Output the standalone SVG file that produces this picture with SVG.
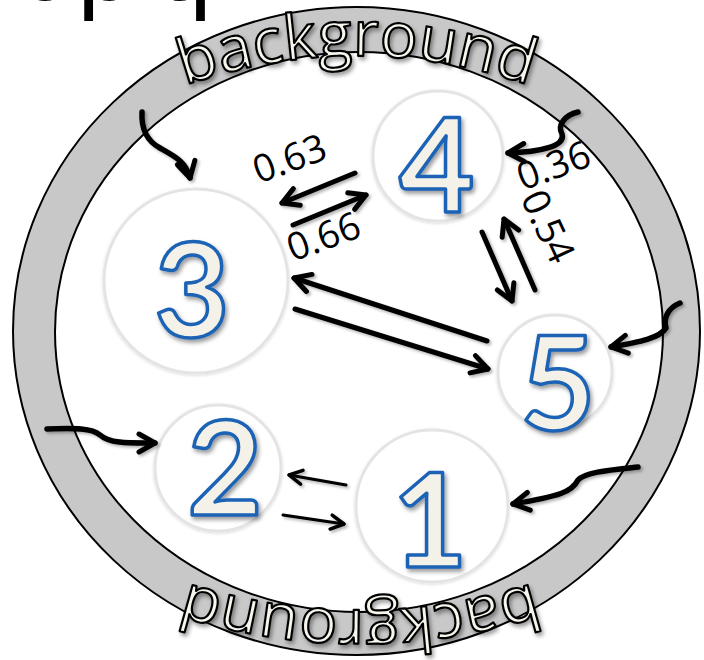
<svg xmlns="http://www.w3.org/2000/svg" xmlns:xlink="http://www.w3.org/1999/xlink" width="704" height="660" viewBox="0 0 704 660">
  <style>
    .ring-o { fill: #c8c8c8; stroke: #000; stroke-width: 2; }
    .ring-i { fill: #ffffff; stroke: #000; stroke-width: 2; }
    .bg-label { font-family: "Open Sans", "DejaVu Sans", sans-serif; font-size: 63px; fill: #f7f5ec; stroke: #000; stroke-width: 2.2; stroke-linejoin: round; filter: url(#shadow); }
    .node-circle { fill: #ffffff; stroke: #e4e4e4; stroke-width: 3; filter: url(#soft); }
    .digit { font-family: Lato, "DejaVu Sans", sans-serif; font-weight: bold; font-size: 130px; fill: #f4f2e8; stroke: #1b62b5; stroke-width: 3.5; stroke-linejoin: round; text-anchor: middle; filter: url(#shadow); }
    .arrow { fill: none; stroke: #000; stroke-width: 5; stroke-linecap: round; stroke-linejoin: round; marker-end: url(#ah); }
    .arrow-thin { fill: none; stroke: #000; stroke-width: 3; stroke-linecap: round; marker-end: url(#ahs); }
    .wavy { fill: none; stroke: #000; stroke-width: 5.5; stroke-linecap: round; stroke-linejoin: round; marker-end: url(#ah); }
    .prob { font-family: "Open Sans", "Liberation Sans", sans-serif; font-size: 38px; fill: #000; text-anchor: middle; }
    .title { font-family: "Liberation Sans", Arial, sans-serif; font-size: 100px; fill: #000; }
  </style>
  <defs>
    <filter id="shadow" x="-20%" y="-20%" width="140%" height="140%">
      <feDropShadow dx="2" dy="3" stdDeviation="2" flood-color="#000" flood-opacity="0.4"/>
    </filter>
    <filter id="soft" x="-20%" y="-20%" width="140%" height="140%">
      <feDropShadow dx="0" dy="1" stdDeviation="1.5" flood-color="#000" flood-opacity="0.15"/>
    </filter>
    <filter id="ashadow" x="-20%" y="-20%" width="140%" height="140%">
      <feDropShadow dx="2" dy="2" stdDeviation="1.5" flood-color="#000" flood-opacity="0.3"/>
    </filter>
    <marker id="ah" viewBox="0 0 24 24" refX="20" refY="12" markerWidth="24" markerHeight="24" markerUnits="userSpaceOnUse" orient="auto">
      <path d="M4,3 L20,12 L4,21" fill="none" stroke="#000" stroke-width="5" stroke-linecap="round" stroke-linejoin="round"/>
    </marker>
    <marker id="ahs" viewBox="0 0 20 20" refX="17" refY="10" markerWidth="20" markerHeight="20" markerUnits="userSpaceOnUse" orient="auto">
      <path d="M4,3 L17,10 L4,17" fill="none" stroke="#000" stroke-width="3.5" stroke-linecap="round" stroke-linejoin="round"/>
    </marker>
    <path id="arcTop" d="M107,120.3 A518,518 0 0 1 607,120.3"/>
    <path id="arcBottom" d="M610,552 A568,568 0 0 1 110,552"/>
  </defs>

  <text class="title" y="0"><tspan x="22">up</tspan><tspan x="156">q</tspan></text>

  <g id="ring">
    <ellipse class="ring-o" cx="356.5" cy="331" rx="343.5" ry="324"/>
    <ellipse class="ring-i" cx="359" cy="332" rx="304" ry="280"/>
  </g>

  <g id="label-background-top">
    <text class="bg-label"><textPath href="#arcTop" xlink:href="#arcTop" startOffset="50%" text-anchor="middle">background</textPath></text>
  </g>
  <g id="label-background-bottom">
    <text class="bg-label"><textPath href="#arcBottom" xlink:href="#arcBottom" startOffset="50%" text-anchor="middle">background</textPath></text>
  </g>

  <g id="node-4">
    <circle class="node-circle" cx="438" cy="156" r="65"/>
    <text class="digit" x="437" y="212">4</text>
  </g>
  <g id="node-3">
    <circle class="node-circle" cx="196" cy="281" r="92"/>
    <text class="digit" x="192" y="337">3</text>
  </g>
  <g id="node-5">
    <circle class="node-circle" cx="555" cy="372" r="57"/>
    <text class="digit" x="558" y="430">5</text>
  </g>
  <g id="node-2">
    <circle class="node-circle" cx="218" cy="468" r="63"/>
    <text class="digit" x="225" y="515">2</text>
  </g>
  <g id="node-1">
    <circle class="node-circle" cx="432" cy="506" r="76"/>
    <text class="digit" x="430" y="567">1</text>
  </g>

  <g id="connectors" filter="url(#ashadow)">
    <line class="arrow" x1="355" y1="173" x2="282" y2="203"/>
    <line class="arrow" x1="293" y1="225" x2="366" y2="195"/>
    <line class="arrow" x1="482" y1="232" x2="512" y2="301"/>
    <line class="arrow" x1="535" y1="290" x2="504" y2="219"/>
    <line class="arrow" x1="487" y1="341" x2="294" y2="278"/>
    <line class="arrow" x1="295" y1="309" x2="488" y2="369"/>
    <line class="arrow-thin" x1="346" y1="485" x2="289" y2="475"/>
    <line class="arrow-thin" x1="283" y1="515" x2="344" y2="524"/>
    <path class="wavy" d="M142,112 C141,130 147,141 160,148 C176,157 186,162 190,178"/>
    <path class="wavy" d="M578,112 C565,115 557,125 562,134 C566,146 540,152 508,153"/>
    <path class="wavy" d="M680,303 C668,308 663,318 666,328 C660,338 640,342 611,347"/>
    <path class="wavy" d="M47,429 C75,428 92,428 100,435 C110,444 130,443 155,443"/>
    <path class="wavy" d="M638,467 C610,470 585,472 578,480 C572,492 560,496 513,504"/>
  </g>

  <g id="edge-labels">
    <text class="prob" transform="translate(294,171) rotate(-20)">0.63</text>
    <text class="prob" transform="translate(328,249) rotate(-20)">0.66</text>
    <text class="prob" transform="translate(558,178) rotate(-20)">0.36</text>
    <text class="prob" transform="translate(536,232) rotate(65)">0.54</text>
  </g>
</svg>
